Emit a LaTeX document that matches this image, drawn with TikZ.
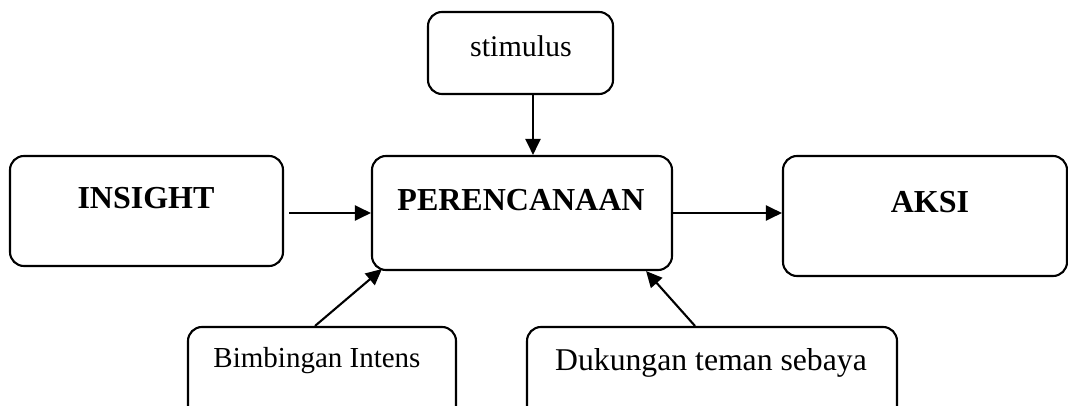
\documentclass[tikz,border=0pt]{standalone}
\usepackage{fontspec}
\setmainfont{Liberation Serif}
\usetikzlibrary{arrows.meta,positioning}
\begin{document}
\begin{tikzpicture}[x=1pt,y=-1pt,
  box/.style={draw=black, line width=2.1pt, rounded corners=14pt, fill=none},
  arr/.style={line width=2.1pt, -{Triangle[length=16pt,width=15pt]}},
  boldtxt/.style={anchor=base, inner sep=0pt, font=\fontsize{32}{34}\selectfont\bfseries},
  plaintxt/.style={anchor=base, inner sep=0pt}
]
\useasboundingbox (0,0) rectangle (1068,406);
\clip (0,0) rectangle (1068,406);
% boxes
\node[box, minimum width=185pt, minimum height=82pt, inner sep=0pt] (stim) at (520.5,53) {};
\node[box, minimum width=273pt, minimum height=110pt, inner sep=0pt] (ins) at (146.5,211) {};
\node[box, minimum width=300pt, minimum height=114pt, inner sep=0pt] (per) at (522,213) {};
\node[box, minimum width=284pt, minimum height=120pt, inner sep=0pt] (aksi) at (925,216) {};
\node[box, minimum width=268pt, minimum height=120pt, inner sep=0pt] (bim) at (322,387) {};
\node[box, minimum width=370pt, minimum height=120pt, inner sep=0pt] (duk) at (712,387) {};
% texts
\node[plaintxt, font=\fontsize{30}{32}\selectfont] (tstim) at (521,57) {stimulus};
\node[boldtxt] (tins) at (146,208) {INSIGHT};
\node[boldtxt] (tper) at (521,211) {PERENCANAAN};
\node[boldtxt] (taksi) at (930,213) {AKSI};
\node[plaintxt, font=\fontsize{29}{31}\selectfont] (tbim) at (317,367) {Bimbingan Intens};
\node[plaintxt, font=\fontsize{31.7}{33}\selectfont] (tduk) at (711,370) {Dukungan teman sebaya};
% connectors
\draw[arr] ([xshift=12.5pt]stim.south) -- ([xshift=12.5pt]stim.south |- per.north);
\draw[arr] ([xshift=5pt]ins.east |- per.west) -- (per.west);
\draw[arr] (per.east) -- (per.east -| aksi.west);
\draw[arr] ([xshift=-7pt]bim.north) -- ([xshift=11pt,yshift=2pt]per.south west);
\draw[arr] ([xshift=-17pt]duk.north) -- ([xshift=-27pt]per.south east);
\end{tikzpicture}
\end{document}
